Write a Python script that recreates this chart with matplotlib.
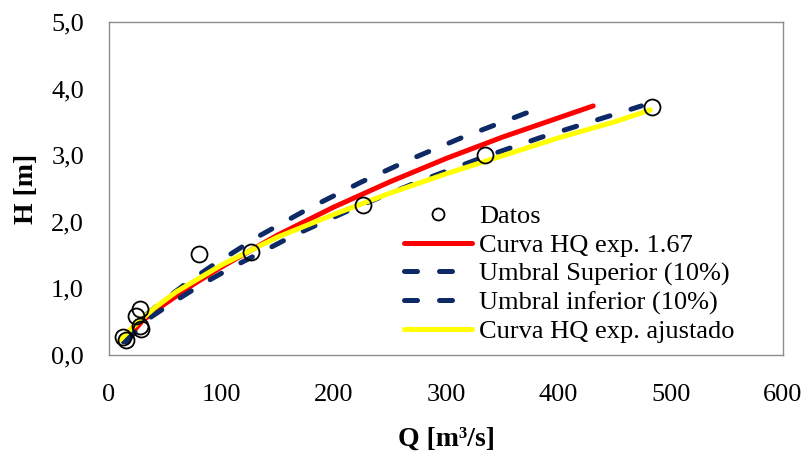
import matplotlib
matplotlib.use("Agg")
import matplotlib.pyplot as plt
from matplotlib.ticker import FuncFormatter, MultipleLocator

plt.rcParams['font.family'] = ['Liberation Serif', 'DejaVu Serif']

# Measured stage-discharge pairs
q_datos = [12.5, 15.4, 24.3, 27.3, 27.9, 28.8, 80, 126, 226, 335, 483]
h_datos = [0.27, 0.23, 0.59, 0.69, 0.44, 0.39, 1.51, 1.55, 2.25, 3.00, 3.72]

# Rating curve with exponent 1.67
q_hq = [14, 30, 50, 75, 100, 150, 200, 250, 300, 350, 400, 431]
h_hq = [0.20, 0.52, 0.77, 1.06, 1.32, 1.80, 2.22, 2.60, 2.95, 3.27, 3.56, 3.74]

# Upper threshold (-10% discharge)
q_sup = [12.6, 27, 45, 67.5, 90, 135, 180, 225, 270, 315, 360, 388]
h_sup = [0.20, 0.52, 0.77, 1.06, 1.32, 1.80, 2.22, 2.60, 2.95, 3.27, 3.56, 3.74]

# Lower threshold (+10% discharge)
q_inf = [15.4, 33, 55, 82.5, 110, 165, 220, 275, 330, 385, 440, 474]
h_inf = [0.20, 0.52, 0.77, 1.06, 1.32, 1.80, 2.22, 2.60, 2.95, 3.27, 3.56, 3.74]

# Adjusted-exponent rating curve
q_adj = [9.5, 20, 40, 60, 80, 100, 126, 150, 200, 250, 300, 350, 400, 450, 482]
h_adj = [0.22, 0.40, 0.70, 0.95, 1.15, 1.35, 1.57, 1.77, 2.11, 2.43, 2.72, 2.99, 3.26, 3.50, 3.68]

labels = ["Datos", "Curva HQ exp. 1.67", "Umbral Superior (10%)",
          "Umbral inferior (10%)", "Curva HQ exp. ajustado"]

fig = plt.figure(figsize=(8.06, 4.54), dpi=100)
ax = fig.add_axes([109 / 806, 1 - 355 / 454, (783 - 109) / 806, (355 - 22) / 454])

navy = "#0d2a66"
lw = 3.6
ax.plot(q_hq, h_hq, color="#ff0000", lw=lw, solid_capstyle="round", label=labels[1], zorder=2)
ax.plot(q_sup, h_sup, color=navy, lw=lw, dashes=(2.6, 4.4), dash_capstyle="round",
        label=labels[2], zorder=3)
ax.plot(q_inf, h_inf, color=navy, lw=lw, dashes=(2.6, 4.4), dash_capstyle="round",
        label=labels[3], zorder=4)
ax.plot(q_adj, h_adj, color="#ffff00", lw=lw, solid_capstyle="round", label=labels[4], zorder=5)
ax.plot(q_datos, h_datos, linestyle="none", marker="o", ms=11.5, mfc="none",
        mec="black", mew=1.3, label=labels[0], zorder=6)

ax.set_xlim(0, 600)
ax.set_ylim(0, 5)
ax.xaxis.set_major_locator(MultipleLocator(100))
ax.yaxis.set_major_locator(MultipleLocator(1))
ax.yaxis.set_major_formatter(FuncFormatter(lambda v, p: f"{v:.1f}".replace(".", ",")))
ax.xaxis.set_major_formatter(FuncFormatter(lambda v, p: f"{v:.0f}"))
ax.tick_params(axis="both", length=0, labelsize=19)
ax.tick_params(axis="y", pad=18)
ax.tick_params(axis="x", pad=21)
for s in ax.spines.values():
    s.set_color("#8c8c8c")
    s.set_linewidth(1.0)

ax.set_xlabel("Q [m³/s]", fontsize=20, fontweight="bold")
ax.set_ylabel("H [m]", fontsize=20, fontweight="bold")
ax.xaxis.set_label_coords(0.5, -0.215)
ax.yaxis.set_label_coords(-0.104, 0.5)

handles, labs = ax.get_legend_handles_labels()
order = [4, 0, 1, 2, 3]
leg = ax.legend([handles[i] for i in order], [labs[i] for i in order],
                loc="center", bbox_to_anchor=(569 / 806, 1 - 274 / 454),
                bbox_transform=fig.transFigure, frameon=False, fontsize=19,
                handlelength=2.6, handletextpad=0.25, labelspacing=0.19,
                markerscale=0.75, borderpad=0)

fig.savefig("out.png", dpi=100)
